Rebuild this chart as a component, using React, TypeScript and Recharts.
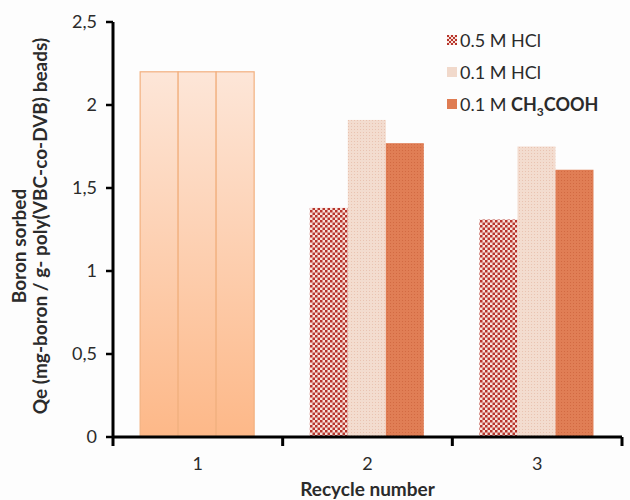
import React from 'react';
import { BarChart, Bar, XAxis, YAxis, Legend, Label } from 'recharts';

const CYCLES = ['1', '2', '3'];
const HCL_05 = [2.2, 1.38, 1.31];
const HCL_01 = [2.2, 1.91, 1.75];
const ACETIC = [2.2, 1.77, 1.61];
const Y_TICKS = [0, 0.5, 1, 1.5, 2, 2.5];

const data = CYCLES.map((c, i) => ({
  cycle: c,
  hcl05: HCL_05[i],
  hcl01: HCL_01[i],
  acetic: ACETIC[i],
}));

const W = 630;
const H = 500;
const MARGIN = { top: 22, right: 8, left: 0, bottom: 23 };
const Y_W = 113;
const X_H = 40;
const PLOT_W = W - Y_W - MARGIN.right;

const FONT = 'Lato, "Open Sans", sans-serif';
const TEXT = '#2b2b2b';
const AXIS = '#000';

const SERIES = [
  { key: 'hcl05', fill: 'url(#checkRed)', swatch: 'url(#checkRedSm)' },
  { key: 'hcl01', fill: 'url(#dotLight)', swatch: '#f1d9cb' },
  { key: 'acetic', fill: 'url(#dotOrange)', swatch: '#df7c52' },
];

// cycle 1 (fresh beads) uses the same peach gradient for every series
const makeShape = (fill: string) => (props: any) => {
  const { x, y, width, height, index } = props;
  if (index === 0) {
    return (
      <rect x={x} y={y} width={width} height={height}
        fill="url(#peach)" stroke="#f2b07f" strokeWidth={1.2} />
    );
  }
  return <rect x={x} y={y} width={width} height={height} fill={fill} />;
};

// x ticks sit on the category boundaries
const XTick = (props: any) => {
  const { x, y, payload, index, visibleTicksCount } = props;
  const half = PLOT_W / CYCLES.length / 2;
  const axisY = y - 8;
  return (
    <g>
      <rect x={x - half - 1.5} y={axisY} width={3} height={9} fill={AXIS} />
      {index === visibleTicksCount - 1 && (
        <rect x={x + half - 1.5} y={axisY} width={3} height={9} fill={AXIS} />
      )}
      <text x={x} y={y + 25} textAnchor="middle" fontSize={18} fill={TEXT} fontFamily={FONT}>
        {payload.value}
      </text>
    </g>
  );
};

const YTitle = () => (
  <g fontFamily={FONT} fontWeight={700} fontSize={19} fill={TEXT}>
    <text x={20} y={246} textAnchor="middle" transform="rotate(-90, 20, 246)" dy={6}>
      Boron sorbed
    </text>
    <text x={41} y={226} textAnchor="middle" transform="rotate(-90, 41, 226)" dy={6}>
      Qe (mg-boron / g- poly(VBC-co-DVB) beads)
    </text>
  </g>
);

const LEGEND_ROWS = [
  { swatch: SERIES[0].swatch, label: <>0.5 M HCl</> },
  { swatch: SERIES[1].swatch, label: <>0.1 M HCl</> },
  {
    swatch: SERIES[2].swatch,
    label: <>0.1 M <b>CH<sub style={{ fontSize: 12, lineHeight: 0 }}>3</sub>COOH</b></>,
  },
];

const LegendBox = () => (
  <div style={{ fontFamily: FONT, fontSize: 18, color: TEXT }}>
    {LEGEND_ROWS.map((r, i) => (
      <div key={i} style={{ display: 'flex', alignItems: 'center', height: 32 }}>
        <svg width={10} height={10} style={{ marginRight: 3 }}>
          <rect x={0} y={0} width={10} height={10} fill={r.swatch} />
        </svg>
        <span>{r.label}</span>
      </div>
    ))}
  </div>
);

export default function App() {
  return (
    <div style={{ position: 'absolute', left: 0, top: 0, width: W, height: H, background: '#fdfdfd' }}>
      <BarChart width={W} height={H} data={data} margin={MARGIN}
        barCategoryGap="16%" barGap={0}>
        <defs>
          <linearGradient id="peach" x1="0" y1="0" x2="0" y2="1">
            <stop offset="0%" stopColor="#fde6d8" />
            <stop offset="100%" stopColor="#fdb888" />
          </linearGradient>
          <pattern id="checkRed" width={5} height={5} patternUnits="userSpaceOnUse">
            <rect width={5} height={5} fill="#f7e3dc" />
            <rect x={0} y={0} width={2.5} height={2.5} fill="#b8352c" />
            <rect x={2.5} y={2.5} width={2.5} height={2.5} fill="#b8352c" />
          </pattern>
          <pattern id="checkRedSm" width={4} height={4} patternUnits="userSpaceOnUse">
            <rect width={4} height={4} fill="#f7e3dc" />
            <rect x={0} y={0} width={2} height={2} fill="#b8352c" />
            <rect x={2} y={2} width={2} height={2} fill="#b8352c" />
          </pattern>
          <pattern id="dotLight" width={3} height={3} patternUnits="userSpaceOnUse">
            <rect width={3} height={3} fill="#f3dccf" />
            <rect x={0} y={0} width={1} height={1} fill="#e9c3b1" />
          </pattern>
          <pattern id="dotOrange" width={3} height={3} patternUnits="userSpaceOnUse">
            <rect width={3} height={3} fill="#e07e55" />
            <rect x={0} y={0} width={1} height={1} fill="#d26a42" />
          </pattern>
        </defs>
        {SERIES.map(s => (
          <Bar key={s.key} dataKey={s.key} isAnimationActive={false}
            fill={s.swatch} shape={makeShape(s.fill)} />
        ))}
        <XAxis dataKey="cycle" height={X_H} tickLine={false} interval={0}
          axisLine={{ stroke: AXIS, strokeWidth: 3 }} tickSize={6} tickMargin={2} tick={<XTick />}>
          <Label value="Recycle number" position="insideBottom" offset={-19}
            style={{ fontFamily: FONT, fontWeight: 700, fontSize: 19, fill: TEXT }} />
        </XAxis>
        <YAxis width={Y_W} domain={[0, 2.5]} ticks={Y_TICKS} interval={0}
          axisLine={{ stroke: AXIS, strokeWidth: 3 }}
          tickLine={{ stroke: AXIS, strokeWidth: 2.5 }} tickSize={7} tickMargin={9}
          tickFormatter={(v: number) => String(v).replace('.', ',')}
          tick={{ fontSize: 18, fill: TEXT, fontFamily: FONT }}>
          <Label content={<YTitle />} />
        </YAxis>
        <Legend layout="vertical" align="center" verticalAlign="middle"
          content={<LegendBox />}
          wrapperStyle={{ top: 24, left: 447, width: 183 }} />
      </BarChart>
    </div>
  );
}
